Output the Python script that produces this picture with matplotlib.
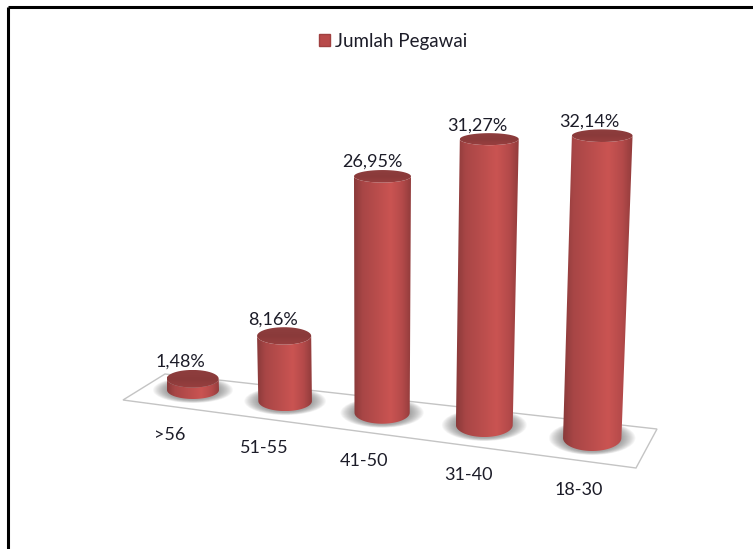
"""Jumlah Pegawai by age group, drawn as perspective 3D cylinders."""

import numpy as np
import matplotlib
matplotlib.use("Agg")
import matplotlib.pyplot as plt
from matplotlib.colors import LinearSegmentedColormap
from matplotlib.patches import Patch, PathPatch, Ellipse, Polygon
from matplotlib.path import Path

# ============================================================
# Data
# ============================================================
categories = [">56", "51-55", "41-50", "31-40", "18-30"]
values = [1.48, 8.16, 26.95, 31.27, 32.14]
value_labels = ["1,48%", "8,16%", "26,95%", "31,27%", "32,14%"]
series_name = "Jumlah Pegawai"

# ============================================================
# Layout (pixels of the 753x549 picture)
# ============================================================
W, H = 753, 549
FLOOR_X = [123, 636, 657, 165]
FLOOR_Y = [400, 468, 429, 374]
label_dx = [-12, -11, -10, -12, -13]

plt.rcParams["font.family"] = ["Lato", "DejaVu Sans"]
TEXT = "#1c1c28"
body_cmap = LinearSegmentedColormap.from_list(
    "body", [(0, "#8a3a3a"), (0.15, "#a84646"), (0.65, "#ca5452"), (0.85, "#b44a4a"), (1, "#923c3c")])
top_cmap = LinearSegmentedColormap.from_list("top", ["#8e3e3e", "#8a3a3a", "#983f3f"])


# ============================================================
# Perspective helpers
# ============================================================
def base_point(i):
    w = 1 - 0.025 * i
    return (193 + 85 * i) / w, (390 + 1.05 * i) / w


def top_point(i, v):
    bx, by = base_point(i)
    rise = v * 7.58 / (1 - 0.0035 * v) / (1 - 0.023 * i)
    return bx + 0.001414 * (bx - 372) * v, by - rise


def top_ry(i, v):
    return (9 + i) * (1 - 0.016 * v)


def arc(cx, cy, rx, ry, t0, t1):
    t = np.linspace(t0, t1, 60)
    return cx + rx * np.cos(t), cy + ry * np.sin(t)


def draw_cylinder(ax, i, v):
    bx, by = base_point(i)
    tx, ty = top_point(i, v)
    rx_b = 26 + 0.8 * i
    rx_t = rx_b * (1 + 0.0012 * v)
    ry_b = 9 + i
    ry_t = top_ry(i, v)

    # soft shadow on the floor
    for k in np.linspace(1, 0, 14):
        ax.add_patch(Ellipse((bx, by), 2 * (rx_b + 1 + 13 * k), 2 * (ry_b + 1 + 3 * k),
                             fc="#666666", ec="none", alpha=0.055, zorder=2))

    # body: front half of the base, then up and back along the top
    xb, yb = arc(bx, by, rx_b, ry_b, np.pi, 0)
    xt, yt = arc(tx, ty, rx_t, ry_t, 0, np.pi)
    body = Path(np.column_stack([np.r_[xb, xt], np.r_[yb, yt]]))
    left, right = min(bx - rx_b, tx - rx_t), max(bx + rx_b, tx + rx_t)
    grad = ax.imshow(np.linspace(0, 1, 128)[None, :], cmap=body_cmap, aspect="auto",
                     extent=(left, right, by + ry_b, ty - ry_t), zorder=3)
    grad.set_clip_path(PathPatch(body, transform=ax.transData))

    # top cap
    xc, yc = arc(tx, ty, rx_t, ry_t, 0, 2 * np.pi)
    cap = Path(np.column_stack([xc, yc]))
    g2 = ax.imshow(np.linspace(0, 1, 32)[:, None], cmap=top_cmap, aspect="auto",
                   extent=(tx - rx_t, tx + rx_t, ty + ry_t, ty - ry_t), zorder=4)
    g2.set_clip_path(PathPatch(cap, transform=ax.transData))


# ============================================================
# Figure
# ============================================================
fig = plt.figure(figsize=(W / 100, H / 100), dpi=100)
ax = fig.add_axes([0, 0, 1, 1])

# picture frame, open at the bottom
ax.plot([8, 8], [H, 7], color="black", lw=2.2, solid_capstyle="butt", zorder=1)
ax.plot([8, W], [7, 7], color="black", lw=2.2, solid_capstyle="butt", zorder=1)

# floor
ax.add_patch(Polygon(np.column_stack([FLOOR_X, FLOOR_Y]), closed=True, fc="white", ec="#c4c4c4", lw=1.0, zorder=1))

for i, (cat, v, lab) in enumerate(zip(categories, values, value_labels)):
    draw_cylinder(ax, i, v)
    tx, ty = top_point(i, v)
    bx, by = base_point(i)
    ax.text(tx + label_dx[i], ty - top_ry(i, v) - 8, lab, ha="center", va="center",
            fontsize=13, color=TEXT, zorder=6)
    ax.text(bx - 23 + 2.3 * i, by + 45 + 1.8 * i, cat, ha="center", va="center",
            fontsize=13, color=TEXT, zorder=6)

ax.legend(handles=[Patch(fc="#b84a4a", ec="#a04040", label=series_name)],
          loc="center", bbox_to_anchor=(393 / W, 1 - 41 / H), frameon=False,
          fontsize=13.5, handlelength=0.6, handleheight=0.6, handletextpad=0.25,
          labelcolor=TEXT)

ax.set_xlim(0, W)
ax.set_ylim(H, 0)
ax.axis("off")

fig.savefig("out.png", dpi=100, facecolor="white")
